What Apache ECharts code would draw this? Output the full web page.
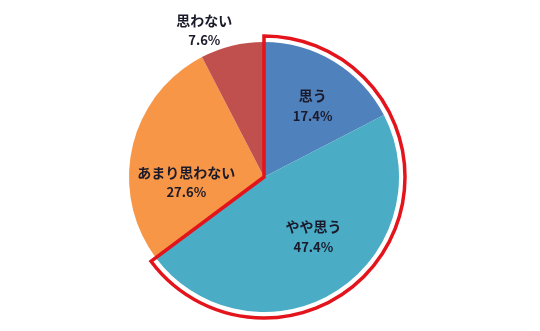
<!DOCTYPE html>
<html>
<head>
<meta charset="utf-8">
<script src="https://cdn.jsdelivr.net/npm/echarts@6/dist/echarts.min.js"></script>
<style>html,body{margin:0;padding:0;background:#fff}#c{width:540px;height:331px}</style>
</head>
<body>
<div id="c"></div>
<script>
const categories = ['思う', 'やや思う', 'あまり思わない', '思わない'];
const values = [17.4, 47.4, 27.6, 7.6];
const colors = ['#4F81BD', '#4BACC6', '#F79646', '#C0504D'];
const labelOffsets = [[12, -11], [12, 0], [-9, 21], [-43, -78]];
const highlightCount = 2;

const chart = echarts.init(document.getElementById('c'), null, {renderer: 'canvas'});
const center = [264, 177];
const highlightSum = values.slice(0, highlightCount).reduce((a, b) => a + b, 0);
const restSum = values.slice(highlightCount).reduce((a, b) => a + b, 0);

chart.setOption({
  backgroundColor: '#ffffff',
  animation: false,
  series: [
    {
      type: 'pie',
      center: center,
      radius: [0, 135],
      startAngle: 90,
      clockwise: true,
      silent: true,
      labelLine: {show: false},
      label: {
        show: true,
        position: 'inside',
        formatter: p => '{n|' + p.name + '}\n{v|' + p.value.toFixed(1) + '%}',
        fontFamily: '"Noto Sans CJK JP", sans-serif',
        fontWeight: 'bold',
        color: '#1a1a2a',
        align: 'center',
        rich: {
          n: {fontSize: 14, lineHeight: 20, fontWeight: 'bold', color: '#1a1a2a', fontFamily: '"Noto Sans CJK JP", sans-serif'},
          v: {fontSize: 13, lineHeight: 20, fontWeight: 'bold', color: '#1a1a2a', fontFamily: '"Noto Sans CJK JP", sans-serif'}
        }
      },
      itemStyle: {borderWidth: 0},
      data: categories.map((c, i) => ({
        name: c,
        value: values[i],
        itemStyle: {color: colors[i]},
        label: {offset: labelOffsets[i]}
      }))
    },
    {
      type: 'pie',
      center: center,
      radius: [0, 141],
      startAngle: 90,
      clockwise: true,
      silent: true,
      z: 3,
      label: {show: false},
      labelLine: {show: false},
      data: [
        {value: highlightSum, name: 'hl', itemStyle: {color: 'rgba(0,0,0,0)', borderColor: '#E3141B', borderWidth: 3.5, borderJoin: 'miter'}},
        {value: restSum, name: 'rest', itemStyle: {color: 'rgba(0,0,0,0)', borderWidth: 0}}
      ]
    }
  ]
});
</script>
</body>
</html>
